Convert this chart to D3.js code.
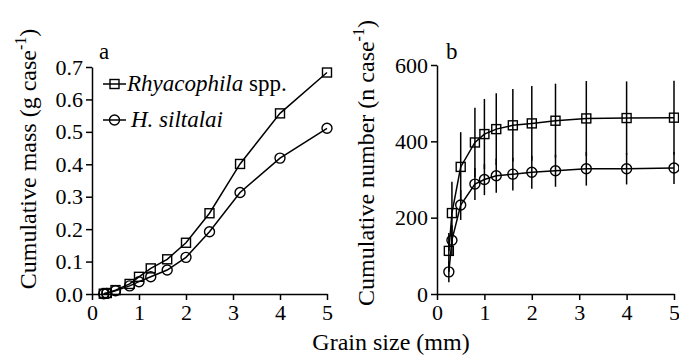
<!DOCTYPE html>
<html>
<head>
<script src="https://cdn.jsdelivr.net/npm/d3@7"></script>
<style>
  svg text, svg tspan { font-family: "Liberation Serif", "Times New Roman", Tinos, serif !important; }
</style>
</head>
<body style="margin:0">
<svg id="chart" width="679" height="358" font-family="Liberation Serif"></svg>
<script>
var serif = "Liberation Serif";

// sieve sizes (mm)
var grainSize = [0.25, 0.315, 0.5, 0.8, 1.0, 1.25, 1.6, 2.0, 2.5, 3.15, 4.0, 5.0];

// panel a: cumulative mass (g case-1)
var massRhyacophila = [0.001, 0.003, 0.012, 0.031, 0.053, 0.079, 0.107, 0.158, 0.249, 0.401, 0.557, 0.683];
var massSiltalai = [0.001, 0.002, 0.010, 0.025, 0.038, 0.053, 0.074, 0.113, 0.192, 0.313, 0.419, 0.511];

// panel b: cumulative number (n case-1) and error bars
var numRhyacophila = [113, 212, 333, 397, 419, 432, 442, 447, 454, 460, 461, 462];
var errRhyacophila = [47, 82, 91, 91, 92, 94, 95, 98, 97, 98, 96, 97];
var numSiltalai = [58, 141, 233, 288, 300, 310, 314, 319, 323, 328, 328, 330];
var errSiltalai = [27, 40, 39, 42, 41, 45, 43, 43, 42, 44, 41, 42];

var xTicks = [0, 1, 2, 3, 4, 5];
var massTicks = [0, 0.1, 0.2, 0.3, 0.4, 0.5, 0.6, 0.7];
var numTicks = [0, 200, 400, 600];

var svg = d3.select("#chart");

// draw a hollow square or circle marker
function drawMarker(g, shape, x, y) {
  if (shape === "square") {
    g.append("rect")
      .attr("x", x - 4.5)
      .attr("y", y - 4.5)
      .attr("width", 9)
      .attr("height", 9)
      .attr("fill", "none")
      .attr("stroke", "#000")
      .attr("stroke-width", 1.4);
  } else {
    g.append("circle")
      .attr("cx", x)
      .attr("cy", y)
      .attr("r", 5)
      .attr("fill", "none")
      .attr("stroke", "#000")
      .attr("stroke-width", 1.4);
  }
}

function styleAxis(g) {
  g.attr("font-family", null).attr("font-size", null);
  g.selectAll("path, line")
    .attr("stroke", "#000")
    .attr("stroke-width", 1.5);
  g.selectAll("text")
    .attr("font-family", serif)
    .attr("font-size", 22)
    .attr("fill", "#000");
}

function drawPanel(opts) {
  var x = d3.scaleLinear().domain([0, 5]).range(opts.xRange);
  var y = d3.scaleLinear().domain(opts.yDomain).range([294, opts.yTop]);

  var xAxis = svg.append("g")
    .attr("transform", `translate(0, ${y(0)})`)
    .call(d3.axisBottom(x).tickValues(xTicks).tickFormat(d3.format("d"))
      .tickSize(6).tickSizeOuter(0).tickPadding(4));
  styleAxis(xAxis);

  var yAxis = svg.append("g")
    .attr("transform", `translate(${x(0)}, 0)`)
    .call(d3.axisLeft(y).tickValues(opts.yTicks).tickFormat(opts.yFormat)
      .tickSize(6).tickSizeOuter(0).tickPadding(3));
  styleAxis(yAxis);

  // error bars first, markers drawn on top
  opts.series.forEach(function(s) {
    if (s.err) {
      svg.append("g").selectAll("line")
        .data(grainSize)
        .enter()
        .append("line")
        .attr("x1", d => x(d))
        .attr("x2", d => x(d))
        .attr("y1", (d, i) => y(s.values[i] - s.err[i]))
        .attr("y2", (d, i) => y(s.values[i] + s.err[i]))
        .attr("stroke", "#000")
        .attr("stroke-width", 1.5);
    }
  });

  opts.series.forEach(function(s) {
    var line = d3.line()
      .x((d, i) => x(grainSize[i]))
      .y(d => y(d));

    svg.append("path")
      .datum(s.values)
      .attr("d", line)
      .attr("fill", "none")
      .attr("stroke", "#000")
      .attr("stroke-width", 1.5);

    var mg = svg.append("g");
    s.values.forEach(function(v, i) {
      drawMarker(mg, s.shape, x(grainSize[i]), y(v));
    });
  });

  // panel letter
  svg.append("text")
    .attr("x", opts.letterX)
    .attr("y", 59)
    .attr("font-family", serif)
    .attr("font-size", 23)
    .text(opts.letter);

  // y axis title with superscript
  var title = svg.append("text")
    .attr("transform", `translate(${opts.titleX}, ${opts.titleY}) rotate(-90)`)
    .attr("text-anchor", "middle")
    .attr("font-family", serif)
    .attr("font-size", 24);
  title.append("tspan").text(opts.title);
  title.append("tspan").attr("dy", -10).attr("font-size", 16).text("-1");
  title.append("tspan").attr("dy", 10).text(")");
}

drawPanel({
  xRange: [92, 327],
  yDomain: [0, 0.7],
  yTop: 67,
  yTicks: massTicks,
  yFormat: d3.format(".1f"),
  letter: "a",
  letterX: 99,
  title: "Cumulative mass (g case",
  titleX: 36,
  titleY: 159,
  series: [
    { values: massRhyacophila, shape: "square" },
    { values: massSiltalai, shape: "circle" }
  ]
});

drawPanel({
  xRange: [437, 674],
  yDomain: [0, 600],
  yTop: 65,
  yTicks: numTicks,
  yFormat: d3.format("d"),
  letter: "b",
  letterX: 446,
  title: "Cumulative number (n case",
  titleX: 374,
  titleY: 163,
  series: [
    { values: numRhyacophila, err: errRhyacophila, shape: "square" },
    { values: numSiltalai, err: errSiltalai, shape: "circle" }
  ]
});

// legend in panel a
var legendItems = [
  { shape: "square", y: 84, parts: [["Rhyacophila", "italic"], [" spp.", "normal"]], textX: 127 },
  { shape: "circle", y: 120, parts: [["H. siltalai", "italic"]], textX: 131 }
];

legendItems.forEach(function(item) {
  svg.append("line")
    .attr("x1", 103).attr("x2", 126)
    .attr("y1", item.y).attr("y2", item.y)
    .attr("stroke", "#000")
    .attr("stroke-width", 1.5);
  drawMarker(svg, item.shape, 114.5, item.y);
  var t = svg.append("text")
    .attr("x", item.textX)
    .attr("y", item.y + 7)
    .attr("font-family", serif)
    .attr("font-size", 23);
  item.parts.forEach(function(p) {
    t.append("tspan").attr("font-style", p[1]).text(p[0]);
  });
});

// shared x axis title
svg.append("text")
  .attr("x", 391)
  .attr("y", 350)
  .attr("text-anchor", "middle")
  .attr("font-family", serif)
  .attr("font-size", 24)
  .text("Grain size (mm)");
</script>
</body>
</html>
